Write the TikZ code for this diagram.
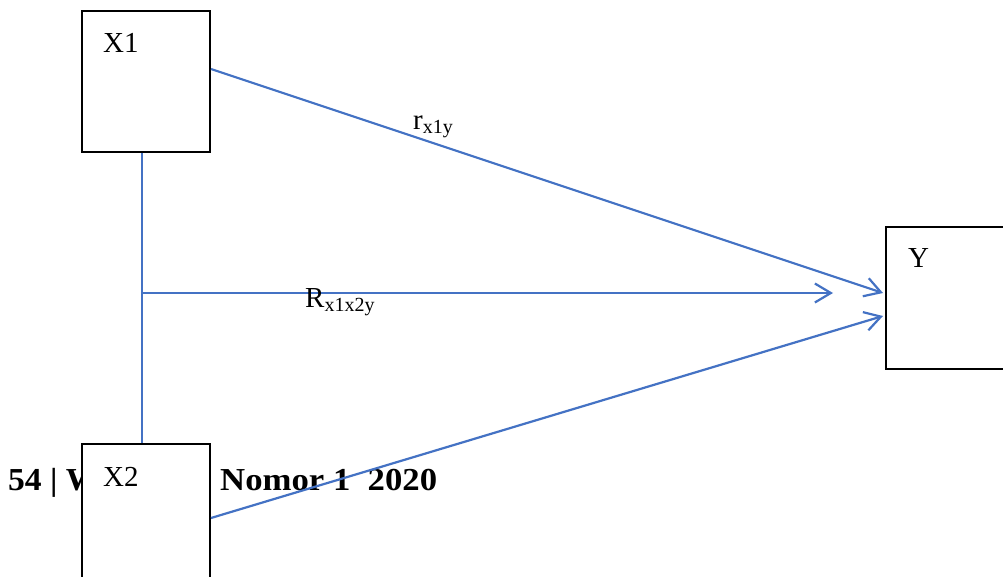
\documentclass[tikz,border=0pt]{standalone}
\usepackage{fontspec}
\setmainfont{Liberation Serif}
\usetikzlibrary{arrows.meta,calc}
\definecolor{lineblue}{RGB}{68,114,196}
\tikzset{
  box/.style={draw=black,line width=2pt,fill=white,minimum width=128pt,minimum height=141pt,inner sep=0pt},
  boxlabel/.style={anchor=base west,inner sep=0pt,font=\fontsize{29}{29}\selectfont},
  conn/.style={draw=lineblue,line width=2.2pt,-{Straight Barb[length=16pt,width=19pt,line width=2.2pt]}},
  plain/.style={draw=lineblue,line width=2.2pt},
  edgelabel/.style={anchor=base west,inner sep=0pt,font=\fontsize{29}{29}\selectfont},
  footer/.style={anchor=base west,inner sep=0pt,font=\fontsize{32}{32}\selectfont\bfseries}
}
\newcommand{\subtxt}[1]{{\fontsize{20}{20}\selectfont\raisebox{-4pt}{#1}}}
\begin{document}
\begin{tikzpicture}[x=1pt,y=-1pt]
\clip (0,0) rectangle (1003,577);
\fill[white] (0,0) rectangle (1003,577);
% footer text (partly hidden behind X2 box)
\node[footer] (f1) at (8,490) {\scalebox{1.05}[1]{54 | W}};
\node[footer] (f2) at (220,490) {\scalebox{1.085}[1]{Nomor 1\ \ 2020}};
% boxes
\node[box] (x1) at (146,81.5) {};
\node[box] (y) at (950,298) {};
\node[box] (x2) at (146,514.5) {};
\node[boxlabel] (x1t) at (103,53) {X1};
\node[boxlabel] (yt) at (908,268) {Y};
\node[boxlabel] (x2t) at (103,486) {X2};
% connector points
\coordinate (a1) at ($(x1.north east)+(0,59)$);
\coordinate (ya) at (883,293);
\coordinate (yb) at (883,316);
\coordinate (a2) at ($(x2.north east)+(0,75)$);
\coordinate (top) at ($(x1.south)+(-4,0)$);
\coordinate (bot) at ($(x2.north)+(-4,0)$);
\coordinate (j) at (142,293);
\coordinate (jh) at (833,293);
\draw[plain] (top) -- (bot);
\draw[conn] (a1) -- (ya);
\draw[conn] (j) -- (jh);
\draw[conn] (a2) -- (yb);
% labels
\node[edgelabel] (r1) at (413,130) {r\subtxt{x1y}};
\node[edgelabel] (r2) at (305,307) {R\subtxt{x1x2y}};
\end{tikzpicture}
\end{document}
